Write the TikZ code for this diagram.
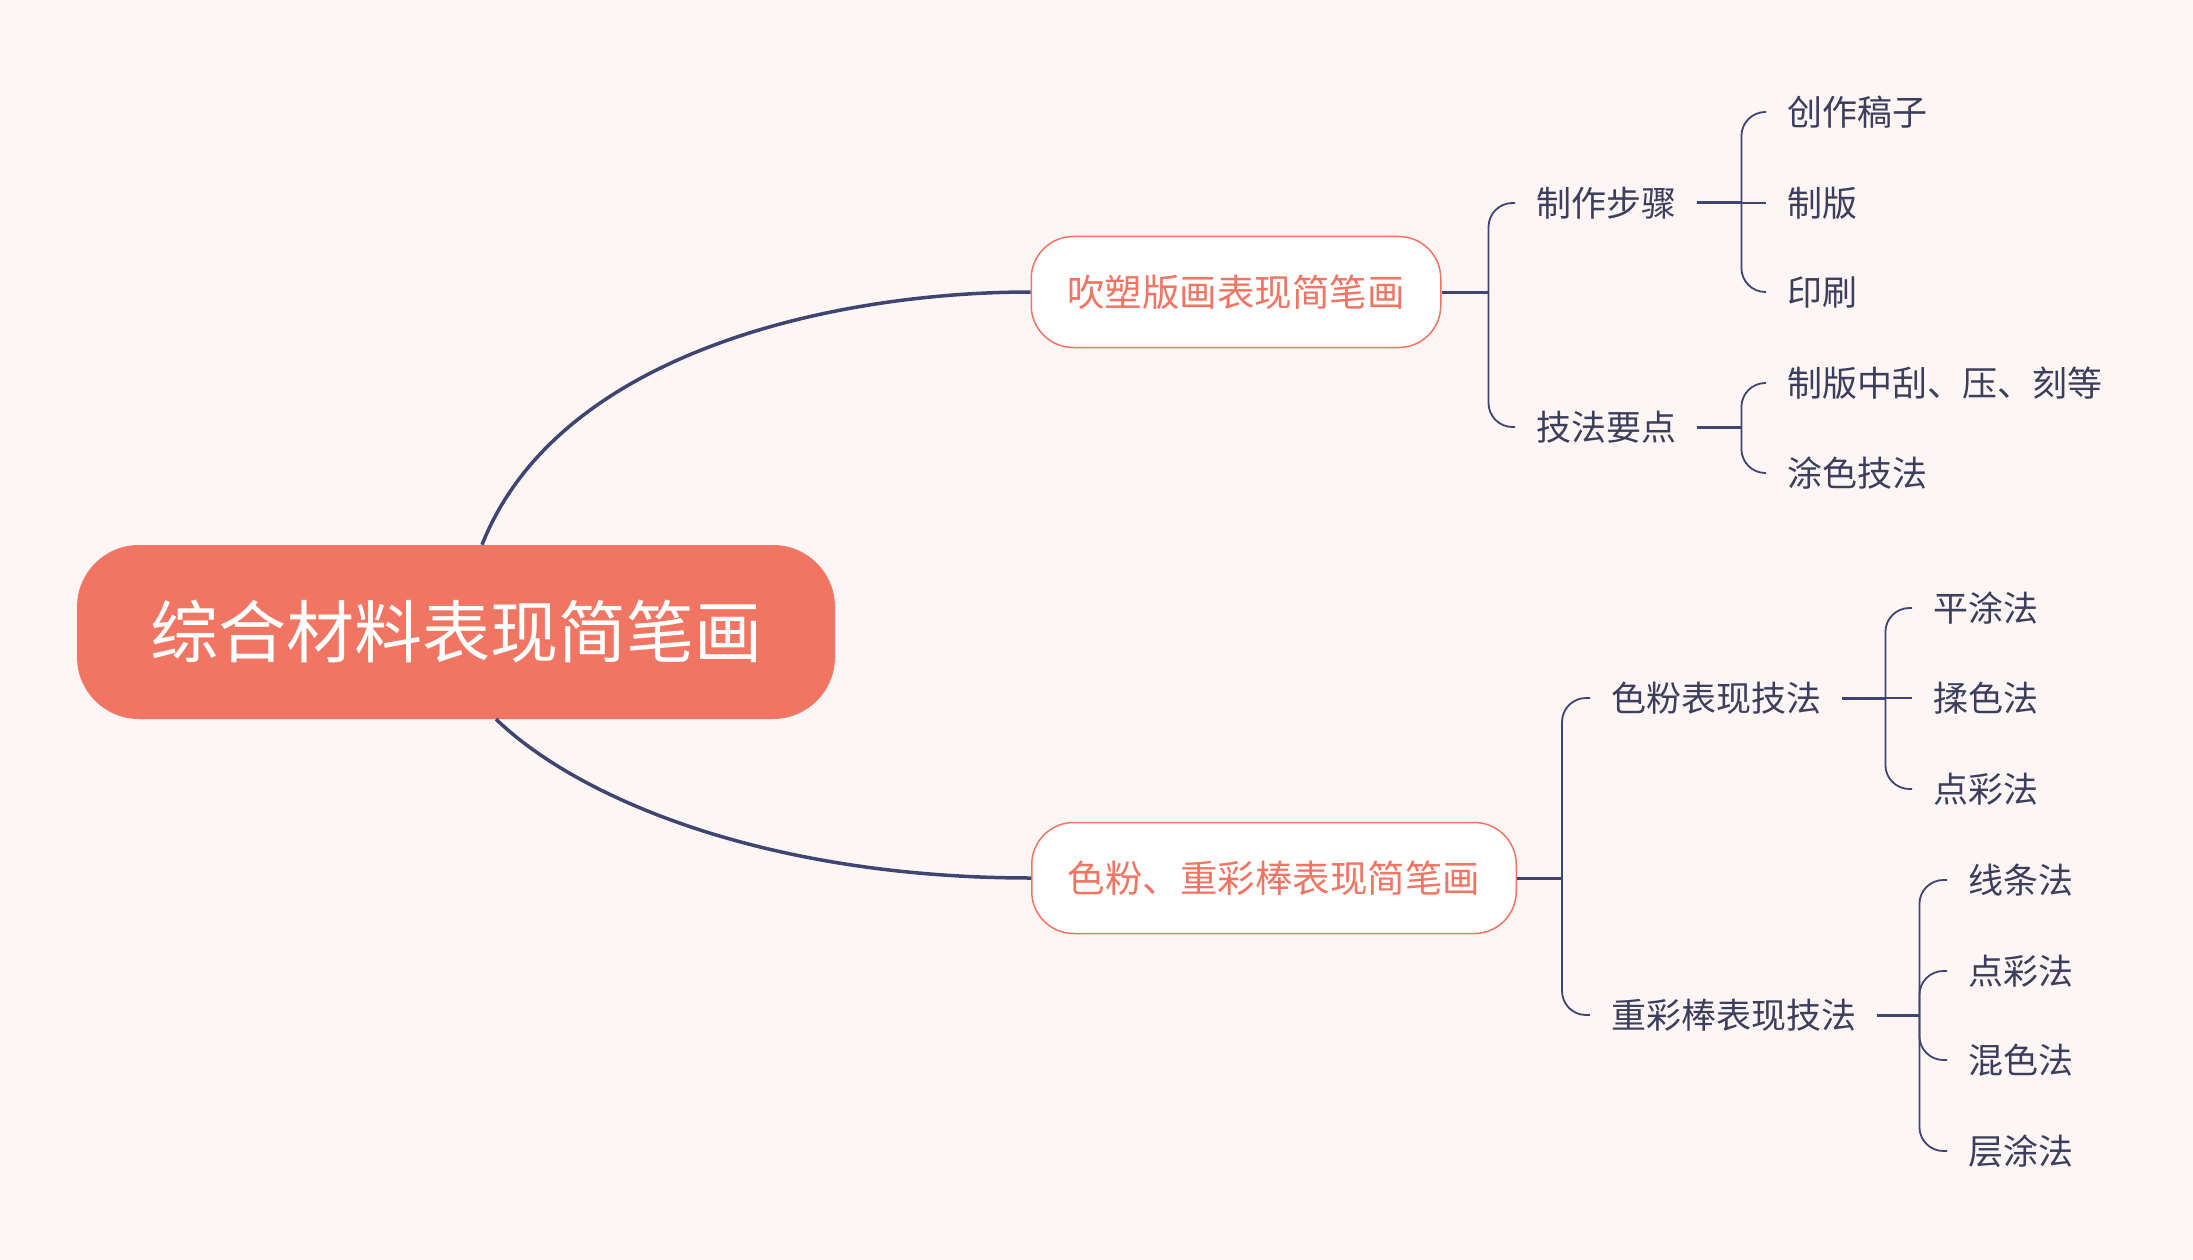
\documentclass[tikz,border=0pt]{standalone}
\usepackage{fontspec}
\setmainfont{Noto Sans CJK SC}
\definecolor{bgpink}{HTML}{FEF6F4}
\definecolor{salmon}{HTML}{F17563}
\definecolor{navy}{HTML}{3F4572}
\definecolor{inkgray}{HTML}{3B3E5C}
\begin{document}
\begin{tikzpicture}[x=1pt,y=-1pt,
  rootbox/.style={fill=salmon, text=white, rounded corners=62, minimum width=758, minimum height=174, font=\fontsize{68}{68}\selectfont},
  topicbox/.style={fill=white, draw=salmon, line width=1.5, text=salmon, rounded corners=42, minimum height=111, inner xsep=36, font=\fontsize{37.5}{37.5}\selectfont},
  leaf/.style={anchor=west, text=inkgray, inner xsep=21, inner ysep=0, text height=31, text depth=4, font=\fontsize{35}{35}\selectfont},
  trunk/.style={draw=navy, line width=3.5},
  stub/.style={draw=navy, line width=3},
  brace/.style={draw=navy, line width=1.8, rounded corners=24}]
\fill[bgpink] (0,0) rectangle (2193,1260);
\useasboundingbox (0,0) rectangle (2193,1260);

\node[rootbox] (root) at (456,632) {综合材料表现简笔画};
\node[topicbox] (blow) at (1236,292) {吹塑版画表现简笔画};
\node[topicbox] (pastel) at (1274,878) {色粉、重彩棒表现简笔画};
\draw[trunk] ([xshift=26]root.north) .. controls (559,350) and (839,292) .. (blow.west);
\draw[trunk] ([xshift=40]root.south) .. controls (580,800) and (769,878) .. (pastel.west);

\node[leaf] (steps) at (1515,203) {制作步骤};
\node[leaf] (tips) at (1515,427) {技法要点};
\draw[stub] (blow.east) -- ++(47,0) coordinate (jblow);
\foreach \n in {steps,tips} \draw[brace] (jblow) |- (\n.west);

\node[leaf] (draft) at (1766,112) {创作稿子};
\node[leaf] (plate) at (1766,203) {制版};
\node[leaf] (print) at (1766,292) {印刷};
\draw[stub] (steps.east) -- ++(44,0) coordinate (jsteps);
\foreach \n in {draft,print} \draw[brace] (jsteps) |- (\n.west);
\draw[brace] (jsteps) -- (plate.west);

\node[leaf] (scrape) at (1766,383) {制版中刮、压、刻等};
\node[leaf] (paint) at (1766,473) {涂色技法};
\draw[stub] (tips.east) -- ++(44,0) coordinate (jtips);
\foreach \n in {scrape,paint} \draw[brace] (jtips) |- (\n.west);

\node[leaf] (powder) at (1590,698) {色粉表现技法};
\node[leaf] (crayon) at (1590,1015) {重彩棒表现技法};
\draw[stub] (pastel.east) -- ++(45,0) coordinate (jpastel);
\foreach \n in {powder,crayon} \draw[brace] (jpastel) |- (\n.west);

\node[leaf] (flat) at (1912,608) {平涂法};
\node[leaf] (rub) at (1912,698) {揉色法};
\node[leaf] (dotA) at (1912,789) {点彩法};
\draw[stub] (powder.east) -- ++(43,0) coordinate (jpowder);
\foreach \n in {flat,dotA} \draw[brace] (jpowder) |- (\n.west);
\draw[brace] (jpowder) -- (rub.west);

\node[leaf] (line) at (1947,880) {线条法};
\node[leaf] (dotB) at (1947,971) {点彩法};
\node[leaf] (mix) at (1947,1060) {混色法};
\node[leaf] (layer) at (1947,1151) {层涂法};
\draw[stub] (crayon.east) -- ++(42,0) coordinate (jcrayon);
\foreach \n in {line,dotB,mix,layer} \draw[brace] (jcrayon) |- (\n.west);
\end{tikzpicture}
\end{document}
